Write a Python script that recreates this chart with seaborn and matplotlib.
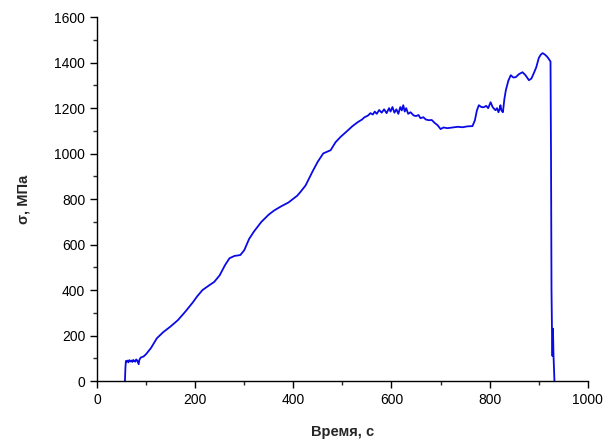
import matplotlib
matplotlib.use("Agg")
import matplotlib.pyplot as plt
from matplotlib.ticker import MultipleLocator
import pandas as pd
import seaborn as sns

# stress vs time
time_s = [57, 58, 59, 60, 62, 64, 66, 68, 70, 72,
          74, 76, 78, 80, 82, 84, 85, 86, 88, 90,
          95, 100, 110, 122, 135, 150, 165, 180, 195, 204,
          215, 228, 239, 250, 261, 270, 280, 292, 300, 310,
          320, 335, 350, 361, 375, 390, 408, 414, 425, 440,
          450, 461, 476, 486, 496, 510, 520, 531, 540, 545,
          550, 553, 557, 562, 566, 570, 575, 580, 585, 590,
          595, 598, 602, 606, 610, 614, 618, 621, 624, 627,
          630, 634, 639, 645, 650, 655, 659, 665, 670, 676,
          682, 688, 694, 700, 706, 714, 725, 735, 745, 755,
          765, 770, 774, 778, 783, 788, 793, 797, 802, 806,
          810, 812, 815, 818, 820, 822, 824, 827, 830, 833,
          838, 843, 848, 853, 860, 867, 873, 880, 885, 890,
          895, 898, 900, 904, 908, 913, 918, 922, 924, 925,
          926, 927, 928, 929, 930, 931, 932]
stress_mpa = [0, 60, 88, 85, 90, 82, 92, 86, 90, 84,
              93, 88, 85, 95, 90, 80, 74, 90, 100, 104,
              108, 118, 145, 188, 215, 240, 268, 305, 345, 372,
              400, 420, 436, 465, 510, 540, 550, 554, 575, 625,
              658, 700, 732, 750, 768, 785, 815, 830, 860, 925,
              965, 1001, 1015, 1050, 1073, 1100, 1120, 1138, 1150, 1160,
              1165, 1169, 1178, 1172, 1185, 1175, 1192, 1180, 1195, 1178,
              1200, 1185, 1205, 1180, 1195, 1175, 1205, 1190, 1213, 1185,
              1200, 1175, 1182, 1168, 1165, 1170, 1156, 1160, 1150, 1147,
              1148, 1135, 1125, 1108, 1115, 1112, 1115, 1118, 1116, 1120,
              1121, 1147, 1190, 1213, 1205, 1204, 1210, 1200, 1226, 1205,
              1195, 1191, 1200, 1182, 1195, 1213, 1190, 1182, 1240, 1279,
              1320, 1345, 1335, 1336, 1350, 1358, 1345, 1323, 1330, 1354,
              1380, 1405, 1420, 1435, 1442, 1435, 1424, 1411, 1405, 1000,
              400, 220, 110, 230, 120, 60, 0]

df = pd.DataFrame({"t": time_s, "sigma": stress_mpa})

sns.set_style("ticks")
plt.rcParams["font.family"] = ["Liberation Sans", "DejaVu Sans"]

fig = plt.figure(figsize=(6.06, 4.41), dpi=100)
ax = fig.add_axes([0.160, 0.136, 0.810, 0.825])

sns.lineplot(data=df, x="t", y="sigma", ax=ax, sort=False, estimator=None,
             color="#0a0ae6", linewidth=1.3)

ax.set_xlim(0, 1000)
ax.set_ylim(0, 1600)
ax.xaxis.set_major_locator(MultipleLocator(200))
ax.xaxis.set_minor_locator(MultipleLocator(100))
ax.yaxis.set_major_locator(MultipleLocator(200))
ax.yaxis.set_minor_locator(MultipleLocator(100))
ax.tick_params(which="major", direction="out", length=5, width=1,
               labelsize=10, colors="black")
ax.tick_params(which="minor", direction="out", length=3, width=1)
for side in ["top", "right"]:
    ax.spines[side].set_visible(False)
for side in ["left", "bottom"]:
    ax.spines[side].set_linewidth(1.0)
    ax.spines[side].set_color("black")

ax.set_xlabel("Время, с", fontsize=10.5, fontweight="bold", labelpad=13)
ax.set_ylabel("σ, МПа", fontsize=10.5, fontweight="bold", labelpad=17)

fig.savefig("out.png", dpi=100)
